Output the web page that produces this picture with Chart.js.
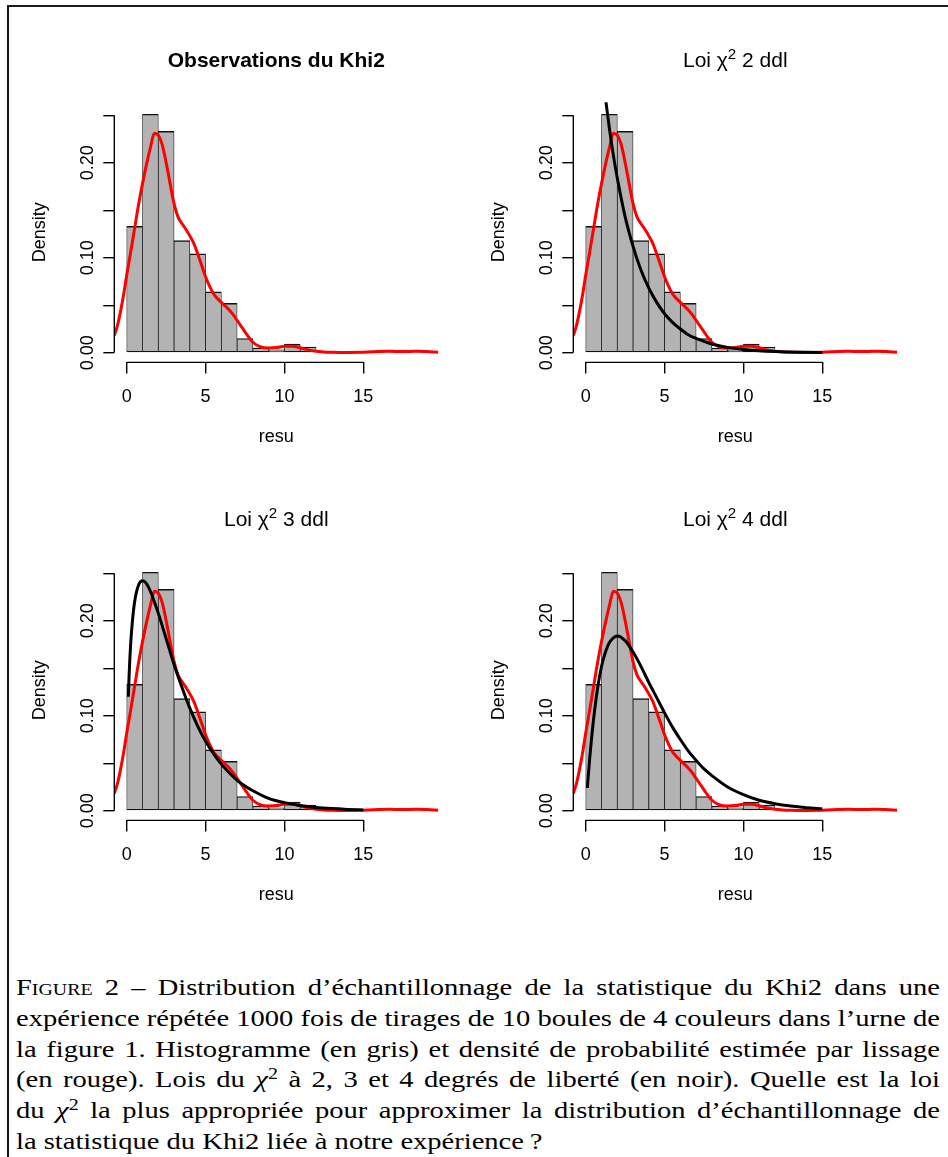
<!DOCTYPE html>
<html lang="fr">
<head>
<meta charset="utf-8">
<title>Distribution d'échantillonnage du Khi2</title>
<script src="https://cdn.jsdelivr.net/npm/chart.js@4.4.1/dist/chart.umd.min.js"></script>
<style>
  html, body { margin: 0; padding: 0; background: #fff; }
  #page { position: relative; width: 948px; height: 1157px; overflow: hidden; background: #fff; }
  #frame { position: absolute; left: 7px; top: 5px; width: 1000px; height: 1200px;
           border-top: 2px solid #1c1c1c; border-left: 2px solid #111; }
  canvas.panel { position: absolute; }
  .ptitle { position: absolute; width: 324px; text-align: center; white-space: nowrap;
            font-family: "Liberation Sans", Arial, sans-serif; font-size: 21px; line-height: 24px; color: #000; }
  .ptitle.bold { font-weight: bold; }
  .ptitle sup { font-size: 0.72em; vertical-align: 0.5em; line-height: 0; }
  .cl { position: absolute; left: 16px; width: 924px; font-family: "Liberation Serif", "Times New Roman", serif;
        font-size: 23px; line-height: 30.8px; color: #000; text-align: justify; text-align-last: justify;
        transform-origin: 0 0; white-space: nowrap; }
  .cl.last { text-align: left; text-align-last: left; }
  .cl sup { font-size: 0.7em; vertical-align: 0.5em; line-height: 0; }
  .sc { font-variant: small-caps; }
</style>
</head>
<body>
<div id="page">
  <div id="frame"></div>

  <canvas id="p1" class="panel" width="459" height="458" style="left:25px;top:16px"></canvas>
  <canvas id="p2" class="panel" width="459" height="458" style="left:484px;top:16px"></canvas>
  <canvas id="p3" class="panel" width="459" height="458" style="left:25px;top:474px"></canvas>
  <canvas id="p4" class="panel" width="459" height="458" style="left:484px;top:474px"></canvas>

  <div class="ptitle bold" style="left:114.3px;top:48px">Observations du Khi2</div>
  <div class="ptitle" style="left:573.3px;top:48px">Loi χ<sup>2</sup> 2 ddl</div>
  <div class="ptitle" style="left:114.3px;top:507px">Loi χ<sup>2</sup> 3 ddl</div>
  <div class="ptitle" style="left:573.3px;top:507px">Loi χ<sup>2</sup> 4 ddl</div>

  <div class="cl" style="top:973px"><span class="sc">Figure</span> 2 – Distribution d’échantillonnage de la statistique du Khi2 dans une</div>
  <div class="cl" style="top:1003.8px">expérience répétée 1000 fois de tirages de 10 boules de 4 couleurs dans l’urne de</div>
  <div class="cl" style="top:1034.6px">la figure 1. Histogramme (en gris) et densité de probabilité estimée par lissage</div>
  <div class="cl" style="top:1065.4px">(en rouge). Lois du <i>χ</i><sup>2</sup> à 2, 3 et 4 degrés de liberté (en noir). Quelle est la loi</div>
  <div class="cl" style="top:1096.2px">du <i>χ</i><sup>2</sup> la plus appropriée pour approximer la distribution d’échantillonnage de</div>
  <div class="cl last" style="top:1127px">la statistique du Khi2 liée à notre expérience&#8201;?</div>
</div>

<script>
// Histogram of the simulated Khi2 statistic: bin midpoints (width 1) and densities
const histBins    = [0.5, 1.5, 2.5, 3.5, 4.5, 5.5, 6.5, 7.5, 8.5, 9.5, 10.5, 11.5, 12.5, 13.5, 14.5, 15.5, 16.5, 17.5, 18.5];
const histDensity = [0.133, 0.251, 0.233, 0.118, 0.104, 0.064, 0.052, 0.015, 0.005, 0.003, 0.009, 0.006, 0.001, 0, 0, 0.001, 0.002, 0.001, 0.002];

// Kernel density estimate (red curve)
const kdeX = [-0.79, -0.6, -0.4, -0.2, 0, 0.25, 0.5, 0.75, 1, 1.25, 1.5, 1.75, 2, 2.25, 2.5, 2.75, 3, 3.25, 3.5, 3.75,
              4, 4.25, 4.5, 4.75, 5, 5.25, 5.5, 5.75, 6, 6.25, 6.5, 6.75, 7, 7.25, 7.5, 7.75, 8, 8.5, 9, 9.5,
              10, 10.5, 11, 11.5, 12, 12.5, 13, 14, 15, 16, 16.5, 17, 17.5, 18, 18.5, 19, 19.76];
const kdeY = [0.018, 0.028, 0.043, 0.061, 0.082, 0.106, 0.131, 0.156, 0.178, 0.198, 0.216, 0.231, 0.229, 0.219, 0.200, 0.178, 0.157, 0.143, 0.136, 0.130,
              0.123, 0.115, 0.104, 0.092, 0.080, 0.070, 0.062, 0.057, 0.053, 0.049, 0.045, 0.040, 0.034, 0.028, 0.022, 0.016, 0.011, 0.006, 0.005, 0.0055,
              0.0068, 0.0068, 0.0052, 0.003, 0.0015, 0.0008, 0.0005, 0.0003, 0.0004, 0.0012, 0.0016, 0.0013, 0.0012, 0.0014, 0.0016, 0.0012, 0.0004];

// Chi-square densities (black curves) for 2, 3 and 4 degrees of freedom
const chiX   = [0.1, 0.15, 0.2, 0.25, 0.35, 0.5, 0.75, 1, 1.25, 1.5, 1.75, 2, 2.5, 3, 3.5, 4, 4.5, 5, 5.5, 6,
                6.5, 7, 7.5, 8, 9, 10, 11, 12, 13, 14, 15];
const chiDf2 = [0.476, 0.464, 0.452, 0.441, 0.420, 0.389, 0.344, 0.303, 0.268, 0.236, 0.208, 0.184, 0.143, 0.112, 0.087, 0.068, 0.053, 0.041, 0.032, 0.025,
                0.019, 0.015, 0.012, 0.0092, 0.0056, 0.0034, 0.0020, 0.0012, 0.00075, 0.00046, 0.00028];
const chiDf3 = [0.120, 0.143, 0.161, 0.176, 0.198, 0.220, 0.2375, 0.242, 0.239, 0.231, 0.220, 0.208, 0.181, 0.154, 0.130, 0.108, 0.089, 0.073, 0.060, 0.049,
                0.040, 0.032, 0.026, 0.021, 0.013, 0.0085, 0.0054, 0.0034, 0.0022, 0.0014, 0.00085];
const chiDf4 = [0.024, 0.035, 0.045, 0.055, 0.073, 0.097, 0.129, 0.152, 0.167, 0.177, 0.182, 0.184, 0.179, 0.167, 0.152, 0.135, 0.119, 0.103, 0.088, 0.075,
                0.063, 0.053, 0.044, 0.037, 0.025, 0.017, 0.011, 0.0074, 0.0049, 0.0032, 0.0021];

// Axis ticks
const xTicks = [0, 5, 10, 15];
const yTicks = [0, 0.05, 0.10, 0.15, 0.20, 0.25];
const yTickLabels = [0, 0.10, 0.20];

const FONT = '"Liberation Sans", Arial, sans-serif';
const AXIS_LW = 1.4;

// Axis lines spanning first to last tick, and rotated y tick labels
const baseAxesPlugin = {
  id: 'baseAxes',
  afterDraw(chart) {
    const { ctx, chartArea, scales: { x, y } } = chart;
    ctx.save();
    ctx.strokeStyle = '#000';
    ctx.lineWidth = AXIS_LW;
    ctx.beginPath();
    ctx.moveTo(x.getPixelForValue(xTicks[0]), chartArea.bottom);
    ctx.lineTo(x.getPixelForValue(xTicks[xTicks.length - 1]), chartArea.bottom);
    ctx.moveTo(chartArea.left, y.getPixelForValue(yTicks[0]));
    ctx.lineTo(chartArea.left, y.getPixelForValue(yTicks[yTicks.length - 1]));
    ctx.stroke();

    ctx.fillStyle = '#000';
    ctx.font = '18px ' + FONT;
    ctx.textAlign = 'center';
    ctx.textBaseline = 'middle';
    yTickLabels.forEach(v => {
      ctx.save();
      ctx.translate(chartArea.left - 26.6, y.getPixelForValue(v));
      ctx.rotate(-Math.PI / 2);
      ctx.fillText(v.toFixed(2), 0, 0);
      ctx.restore();
    });
    ctx.restore();
  }
};

function makePanel(id, chiY) {
  const datasets = [
    {
      type: 'bar',
      data: histBins.map((b, i) => ({ x: b, y: histDensity[i] })),
      backgroundColor: '#b3b3b3',
      borderColor: '#111111',
      borderWidth: { top: 1.4, bottom: 1.3, left: 0.75, right: 0.75 },
      borderSkipped: false,
      barPercentage: 1,
      categoryPercentage: 1,
      order: 3
    },
    {
      type: 'line',
      data: kdeX.map((v, i) => ({ x: v, y: kdeY[i] })),
      borderColor: '#ff0000',
      borderWidth: 3,
      pointRadius: 0,
      fill: false,
      cubicInterpolationMode: 'monotone',
      order: 2
    }
  ];
  if (chiY) {
    datasets.push({
      type: 'line',
      data: chiX.map((v, i) => ({ x: v, y: chiY[i] })),
      borderColor: '#000000',
      borderWidth: 3,
      pointRadius: 0,
      fill: false,
      cubicInterpolationMode: 'monotone',
      order: 1
    });
  }

  const tickGrid = { display: true, drawOnChartArea: false, drawTicks: true, tickLength: 11,
                     color: '#000', lineWidth: AXIS_LW, offset: false };

  new Chart(document.getElementById(id), {
    type: 'bar',
    data: { datasets },
    options: {
      responsive: false,
      animation: false,
      events: [],
      layout: { padding: { top: 86.3, right: 45.7, left: 0, bottom: 0 } },
      plugins: { legend: { display: false }, tooltip: { enabled: false }, title: { display: false } },
      scales: {
        x: {
          type: 'linear',
          min: -0.79, max: 19.76,
          offset: false,
          grid: tickGrid,
          border: { display: false },
          ticks: { color: '#000', font: { family: FONT, size: 18 }, padding: 12.5, maxRotation: 0, autoSkip: false },
          afterBuildTicks: s => { s.ticks = xTicks.map(v => ({ value: v })); },
          afterFit: s => { s.height = 111.6; },
          title: { display: true, text: 'resu', color: '#000', font: { family: FONT, size: 18 },
                   padding: { top: 0, bottom: 26.5 } }
        },
        y: {
          type: 'linear',
          min: -0.0102, max: 0.2636,
          grid: tickGrid,
          border: { display: false },
          ticks: { display: false },
          afterBuildTicks: s => { s.ticks = yTicks.map(v => ({ value: v })); },
          afterFit: s => { s.width = 89.3; },
          title: { display: true, text: 'Density', color: '#000', font: { family: FONT, size: 18 },
                   padding: { top: 4.5, bottom: 0 } }
        }
      }
    },
    plugins: [baseAxesPlugin]
  });
}

makePanel('p1', null);
makePanel('p2', chiDf2);
makePanel('p3', chiDf3);
makePanel('p4', chiDf4);

// Caption: widen the serif text so the justified lines keep normal word spacing
(function fitCaption() {
  const full = 924;
  const lines = Array.from(document.querySelectorAll('.cl'));
  let scale = Infinity;
  lines.forEach(el => {
    if (el.classList.contains('last')) return;
    el.style.width = 'auto';
    el.style.display = 'inline-block';
    el.style.textAlignLast = 'left';
    const w = el.getBoundingClientRect().width;
    scale = Math.min(scale, full / w);
    el.style.display = '';
    el.style.textAlignLast = '';
  });
  if (!isFinite(scale)) scale = 1;
  lines.forEach(el => {
    el.style.width = (full / scale) + 'px';
    el.style.transform = 'scaleX(' + scale + ')';
  });
})();
</script>
</body>
</html>
